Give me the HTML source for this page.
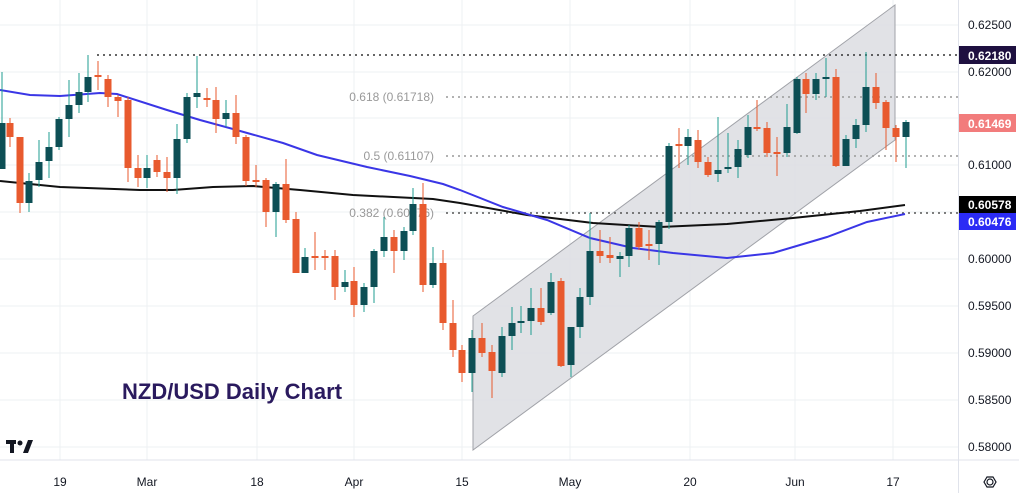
<!DOCTYPE html>
<html><head><meta charset="utf-8">
<style>
html,body{margin:0;padding:0;background:#fff;width:1019px;height:493px;overflow:hidden}
svg{display:block;font-family:"Liberation Sans",sans-serif}
</style></head><body>
<svg id="s" width="1019" height="493" viewBox="0 0 1019 493" xmlns="http://www.w3.org/2000/svg">
<g stroke="#eef0f3" stroke-width="1">
<line x1="0" x2="958" y1="25" y2="25"/><line x1="0" x2="958" y1="72" y2="72"/><line x1="0" x2="958" y1="118" y2="118"/><line x1="0" x2="958" y1="165" y2="165"/><line x1="0" x2="958" y1="212" y2="212"/><line x1="0" x2="958" y1="259" y2="259"/><line x1="0" x2="958" y1="306" y2="306"/><line x1="0" x2="958" y1="353" y2="353"/><line x1="0" x2="958" y1="400" y2="400"/><line x1="0" x2="958" y1="447" y2="447"/>
<line x1="60" x2="60" y1="0" y2="460"/><line x1="147" x2="147" y1="0" y2="460"/><line x1="257" x2="257" y1="0" y2="460"/><line x1="354" x2="354" y1="0" y2="460"/><line x1="462" x2="462" y1="0" y2="460"/><line x1="570" x2="570" y1="0" y2="460"/><line x1="690" x2="690" y1="0" y2="460"/><line x1="795" x2="795" y1="0" y2="460"/><line x1="893" x2="893" y1="0" y2="460"/>
</g>
<polygon points="473,316 895,5 895,140 473,450" fill="#dcdde2" fill-opacity="0.85" stroke="#a0a2a8" stroke-width="1"/>
<g stroke-dasharray="2,4" stroke-width="1.5">
<line x1="97" x2="958" y1="55" y2="55" stroke="#333"/>
<line x1="446" x2="958" y1="97" y2="97" stroke="#999"/>
<line x1="446" x2="958" y1="156" y2="156" stroke="#999"/>
<line x1="446" x2="958" y1="213" y2="213" stroke="#555"/>
</g>
<g font-size="12" fill="#999" text-anchor="end">
<text x="434" y="101">0.618 (0.61718)</text>
<text x="434" y="160">0.5 (0.61107)</text>
<text x="434" y="217">0.382 (0.60476)</text>
</g>
<polyline fill="none" stroke="#111" stroke-width="2" points="0,181 60,187 140,190 173,190 213,187 253,186 300,190 353,195 433,199 460,203 527,215 593,223 660,227 727,224 793,218 860,211 905,205"/>
<polyline fill="none" stroke="#3a36e6" stroke-width="2" points="0,90 30,95 60,96 100,93 117,94 167,110 200,120 233,129 283,143 317,155 367,167 410,176 443,184 460,190 503,207 547,220 590,238 633,248 673,253 727,258 773,253 827,237 867,222 905,214"/>
<g id="c"></g>
<text x="122" y="399" font-size="22" font-weight="bold" fill="#2a1a5e">NZD/USD Daily Chart</text>
<g fill="#131722"><rect x="6" y="440" width="10" height="4"/><rect x="10" y="440" width="4" height="13"/><circle cx="20" cy="443" r="2.5"/><polygon points="23,453 28,440 33,440 28,453"/></g>
<line x1="0" x2="1019" y1="460" y2="460" stroke="#e0e3eb"/>
<line x1="958.5" x2="958.5" y1="0" y2="493" stroke="#e0e3eb"/>
<g font-size="12" fill="#131722">
<text x="968" y="29">0.62500</text><text x="968" y="76">0.62000</text><text x="968" y="169">0.61000</text><text x="968" y="263">0.60000</text><text x="968" y="310">0.59500</text><text x="968" y="357">0.59000</text><text x="968" y="404">0.58500</text><text x="968" y="451">0.58000</text>
</g>
<g font-size="12" font-weight="bold" fill="#fff">
<rect x="959" y="46" width="57" height="18" fill="#1e1040"/><text x="968" y="60">0.62180</text>
<rect x="959" y="114" width="57" height="18" fill="#f27c7c"/><text x="968" y="128">0.61469</text>
<rect x="959" y="196" width="57" height="17" fill="#000"/><text x="968" y="209">0.60578</text>
<rect x="959" y="213" width="57" height="17" fill="#2b2bf5"/><text x="968" y="226">0.60476</text>
</g>
<g font-size="12" fill="#131722" text-anchor="middle">
<text x="60" y="486">19</text><text x="147" y="486">Mar</text><text x="257" y="486">18</text><text x="354" y="486">Apr</text><text x="462" y="486">15</text><text x="570" y="486">May</text><text x="690" y="486">20</text><text x="795" y="486">Jun</text><text x="893" y="486">17</text>
</g>
<circle cx="990" cy="482" r="3" fill="none" stroke="#131722" stroke-width="1.2"/>
<polygon points="984,482 987,477 993,477 996,482 993,487 987,487" fill="none" stroke="#131722" stroke-width="1.2"/>
</svg>
<script>
// x, open, close, high, low (pixel y)
var d=[
[2,169,123,72,133],[10,123,137,118,147],[20,137,203,137,213],[29,203,181,173,212],[39,180,162,140,187],[49,161,147,132,178],[59,147,119,117,150],[69,119,105,80,137],[79,105,92,73,113],[88,92,77,55,102],[98,76,76,61,90],[108,79,97,75,107],[118,97,101,95,117],[128,100,168,97,182],[138,168,178,155,187],[147,178,168,155,188],[157,160,172,155,177],[167,172,178,157,192],[177,178,139,124,194],[187,139,97,93,143],[197,97,93,56,108],[207,99,99,88,107],[216,100,119,87,133],[226,119,113,100,127],[236,113,137,95,144],[246,137,181,135,186],[256,181,181,165,187],[266,180,212,178,227],[276,212,184,182,237],[286,184,220,159,223],[296,219,273,212,273],[305,273,257,248,273],[315,257,257,232,270],[325,257,257,250,270],[335,256,287,250,300],[345,287,282,270,292],[354,281,305,267,317],[364,305,287,283,312],[374,287,251,249,303],[384,251,237,217,257],[394,237,251,230,273],[404,251,231,227,260],[413,231,204,188,235],[423,204,285,183,292],[433,285,263,247,288],[443,263,323,250,330],[453,323,350,300,357],[462,350,373,345,382],[472,373,338,330,392],[482,338,353,323,357],[492,352,371,345,398],[502,373,336,327,377],[512,336,323,307,350],[521,323,321,306,333],[531,321,308,288,335],[541,308,322,288,325],[551,313,282,273,315],[561,281,366,278,367],[571,365,327,327,377],[580,327,297,288,338],[590,297,251,213,305],[600,251,256,230,263],[610,255,258,237,263],[620,258,257,252,277],[629,256,228,225,267],[639,228,247,222,250],[649,245,245,230,260],[659,244,222,220,265],[669,222,146,143,229],[679,145,145,128,168],[688,146,137,129,165],[698,140,162,130,168],[708,162,175,157,177],[718,174,170,117,182],[728,169,167,133,173],[738,167,149,140,178],[748,155,127,115,158],[757,127,129,100,131],[767,128,153,122,157],[777,153,153,137,176],[787,153,127,104,157],[797,133,79,77,134],[806,79,94,73,113],[816,94,79,73,100],[826,79,77,58,97],[836,77,166,69,167],[846,166,139,135,166],[856,139,125,119,148],[866,125,87,52,132],[876,87,103,73,109],[886,102,128,100,150],[896,128,137,125,162],[906,137,122,120,168]
];
var g=document.getElementById('c'),h='';
d.forEach(function(c){
 var up=c[2]<c[1];var bc=up?'#0d4f55':'#e85a2e';var wc=up?'#1f9c90':'#e85a2e';
 var t=Math.min(c[1],c[2]),b=Math.max(c[1],c[2]);if(b-t<2){t-=1;b+=1;}
 h+='<line x1="'+c[0]+'" x2="'+c[0]+'" y1="'+c[3]+'" y2="'+c[4]+'" stroke="'+wc+'" stroke-width="1"/>';
 h+='<rect x="'+(c[0]-3.5)+'" y="'+t+'" width="7" height="'+(b-t)+'" fill="'+bc+'"/>';
});
g.innerHTML=h;
</script>
</body></html>
